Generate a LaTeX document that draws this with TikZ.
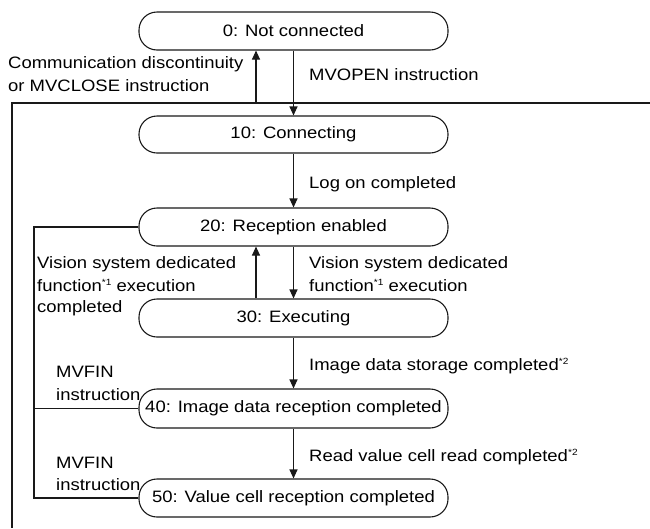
\documentclass[tikz,border=0pt]{standalone}
\usepackage{fontspec}
\setmainfont{Liberation Sans}[FakeStretch=1.12]
\usetikzlibrary{arrows.meta}
\newcommand\noteref[1]{\raisebox{6pt}{\fontsize{9}{9}\selectfont *#1}}
\begin{document}
\begin{tikzpicture}[x=1pt,y=-1pt,
  state/.style={draw=black!90, line width=1.1pt, rounded corners=18pt, minimum width=309pt, minimum height=37pt, inner sep=0pt, font=\fontsize{16.5}{22}\selectfont},
  lbl/.style={anchor=base west, inner sep=0pt, font=\fontsize{16.5}{22}\selectfont},
  arr/.style={draw=black!90, line width=1.1pt, -{Triangle[length=9pt,width=8pt]}},
  ln/.style={draw=black!90, line width=1.1pt}]
\useasboundingbox (0,0) rectangle (650,528);
\node[state, minimum height=38pt] (s0) at (293.5,31) {0: Not connected};
\node[state] (s1) at (293.5,134.5) {10: Connecting};
\node[state, minimum height=38pt] (s2) at (293.5,227) {20: Reception enabled};
\node[state, minimum height=38pt] (s3) at (293.5,318) {30: Executing};
\node[state, minimum height=39pt] (s4) at (293.5,408.5) {40: Image data reception completed};
\node[state, minimum height=38pt] (s5) at (293.5,498) {50: Value cell reception completed};
% outer return line
\coordinate (lineR) at (650,103);
\coordinate (lineL) at (12,103);
\coordinate (lineB) at (12,528);
\coordinate (upx) at (256,0);
\coordinate (ix) at (34,0);
\draw[ln] (lineR) -- (lineL) -- (lineB);
\draw[arr] (upx |- lineL) -- (upx |- s0.south);
\draw[arr] (s0.south) -- (s1.north);
\draw[arr] (s1.south) -- (s2.north);
\draw[arr] (s2.south) -- (s3.north);
\draw[arr] (upx |- s3.north) -- (upx |- s2.south);
\draw[arr] (s3.south) -- (s4.north);
\draw[arr] (s4.south) -- (s5.north);
% inner MVFIN line
\draw[ln] (s2.west) -- (ix |- s2.west) -- (ix |- s5.west) -- (s5.west);
\draw[ln] (ix |- s4.west) -- (s4.west);
% labels
\node[lbl] (t0a) at (8,68.5) {Communication discontinuity};
\node[lbl] (t0b) at (8,91) {or MVCLOSE instruction};
\node[lbl] (t1) at (309,80) {MVOPEN instruction};
\node[lbl] (t2) at (309,188) {Log on completed};
\node[lbl] (t3a) at (309,268) {Vision system dedicated};
\node[lbl] (t3b) at (309,291) {function\noteref{1} execution};
\node[lbl] (t4a) at (37,268) {Vision system dedicated};
\node[lbl] (t4b) at (37,291) {function\noteref{1} execution};
\node[lbl] (t4c) at (37,312) {completed};
\node[lbl] (t5) at (309,370) {Image data storage completed\noteref{2}};
\node[lbl] (t6a) at (56,377) {MVFIN};
\node[lbl] (t6b) at (56,400) {instruction};
\node[lbl] (t7) at (309,461) {Read value cell read completed\noteref{2}};
\node[lbl] (t8a) at (56,468) {MVFIN};
\node[lbl] (t8b) at (56,490) {instruction};
\end{tikzpicture}
\end{document}
